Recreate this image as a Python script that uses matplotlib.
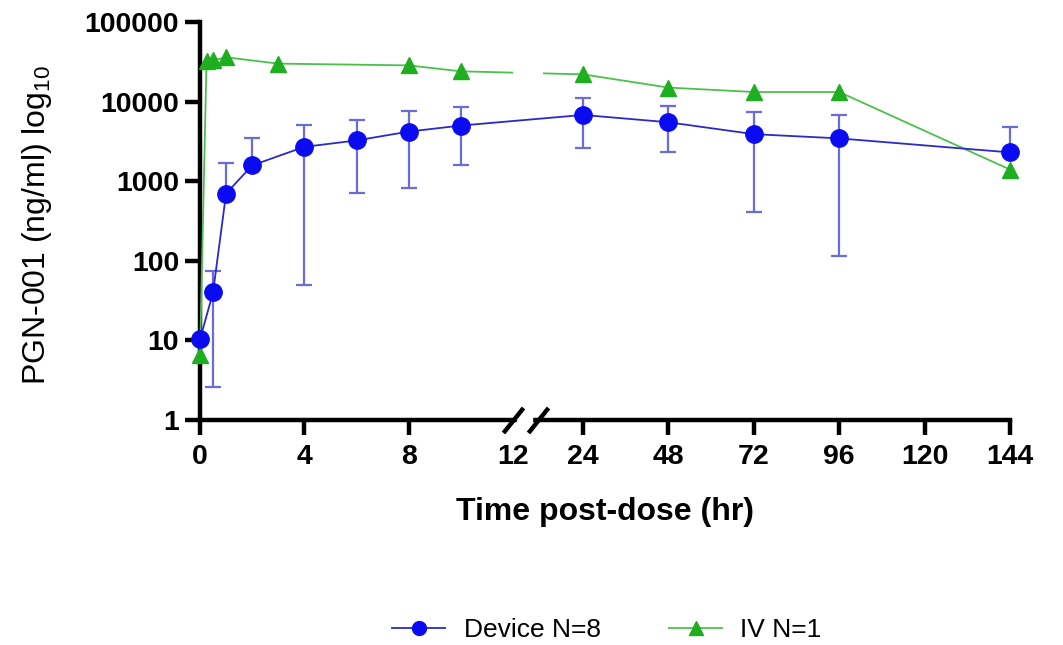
import numpy as np
import matplotlib
matplotlib.use("Agg")
from matplotlib import pyplot as plt
from matplotlib import transforms
from matplotlib.lines import Line2D

plt.rcParams['font.family'] = ['Liberation Sans', 'DejaVu Sans']
plt.rcParams['mathtext.fontset'] = 'custom'
plt.rcParams['mathtext.rm'] = 'Liberation Sans'

# Device group (N=8): mean and the ends of the SD bars (ng/ml)
device_t = [0, 0.5, 1, 2, 4, 6, 8, 10, 24, 48, 72, 96, 144]
device_mean = [10.3, 40, 700, 1580, 2700, 3250, 4200, 5000, 6800, 5500, 3900, 3450, 2300]
device_hi = [10.3, 75, 1700, 3500, 5100, 5900, 7700, 8600, 11200, 8700, 7300, 6700, 4800]
device_lo = [10.3, 2.6, 700, 1580, 50, 710, 820, 1600, 2650, 2300, 410, 115, 2300]

# IV group (N=1)
iv_t = [0, 0.25, 0.5, 1, 3, 8, 10, 24, 48, 72, 96, 144]
iv_val = [6.5, 32000, 33000, 36000, 30000, 28500, 24000, 22000, 15000, 13200, 13200, 1400]

x_ticks = [0, 4, 8, 12, 24, 48, 72, 96, 120, 144]
y_ticks = [1, 10, 100, 1000, 10000, 100000]

# broken x axis: 0-12 h and 24-144 h share one axes via a piecewise scale
seg_x = [0, 12, 24, 144]
seg_px = [0, 313, 383, 810]
def fwd(x):
    return np.interp(x, seg_x, seg_px)
def inv(p):
    return np.interp(p, seg_px, seg_x)

BREAK_L = 12.0
BREAK_R = 16.3

BLUE = '#0b0bf2'
BLUE_LINE = '#2a2ac8'
BLUE_ERR = '#6b6bd9'
GREEN = '#1fae1f'
GREEN_LINE = '#4cc04c'

fig = plt.figure(figsize=(10.63, 6.45), dpi=100)
ax = fig.add_axes([200/1063, 1 - 420/645, 810/1063, 398/645])
ax.set_xscale('function', functions=(fwd, inv))
ax.set_yscale('log')
ax.set_xlim(0, 144)
ax.set_ylim(1, 100000)

# IV line underneath, then a white mask makes the break gap in it
ax.plot(iv_t, iv_val, color=GREEN_LINE, lw=1.3, zorder=2, clip_on=False)
ax.axvspan(BREAK_L, BREAK_R + 0.8, color='white', zorder=2.5, lw=0)
ax.plot(iv_t, iv_val, ls='none', marker='^', ms=12, color=GREEN, mec=GREEN,
        zorder=4, clip_on=False)

yerr = [np.array(device_mean) - np.array(device_lo),
        np.array(device_hi) - np.array(device_mean)]
ax.errorbar(device_t, device_mean, yerr=yerr, fmt='none', ecolor=BLUE_ERR,
            elinewidth=1.6, capsize=6, capthick=1.6, zorder=3, clip_on=False)
ax.plot(device_t, device_mean, color=BLUE_LINE, lw=1.3, zorder=3, clip_on=False)
ax.plot(device_t, device_mean, ls='none', marker='o', ms=12.5, color=BLUE,
        mec=BLUE, zorder=5, clip_on=False)

# axes styling
for s in ['top', 'right']:
    ax.spines[s].set_visible(False)
ax.spines['left'].set_linewidth(3.2)
ax.spines['bottom'].set_linewidth(3.2)
ax.spines['left'].set_zorder(1)
ax.set_xticks(x_ticks)
ax.set_xticklabels([str(v) for v in x_ticks])
ax.set_yticks(y_ticks)
ax.set_yticklabels([str(v) for v in y_ticks])
ax.minorticks_off()
ax.tick_params(axis='both', width=3.2, length=11, labelsize=20.5, pad=4)
ax.tick_params(axis='x', pad=6)
for lab in ax.get_xticklabels() + ax.get_yticklabels():
    lab.set_fontweight('bold')
# no tick mark at 12 (the break sits there)
ax.xaxis.get_major_ticks()[3].tick1line.set_visible(False)

# axis break: blank the spine between the two slashes, then draw them
trans = transforms.blended_transform_factory(ax.transData, ax.transAxes)
ax.add_patch(plt.Rectangle((BREAK_L + 0.6, -0.02), BREAK_R - BREAK_L - 1.6, 0.04,
                           transform=trans, color='white', zorder=6, clip_on=False))
for bx in [BREAK_L, BREAK_R]:
    ax.plot([bx], [0], transform=trans, marker=[(-0.8, -1), (0.8, 1)], ms=18,
            mew=3.2, color='k', ls='none', clip_on=False, zorder=7)

fig.text(605/1063, 1 - 512/645, 'Time post-dose (hr)', ha='center', va='center',
         fontsize=23, fontweight='bold')
fig.text(37/1063, 1 - 225/645, r'PGN-001 (ng/ml) log$_{\mathregular{10}}$',
         rotation=90, ha='center', va='center', fontsize=23)

handles = [Line2D([], [], color=BLUE_LINE, lw=1.3, marker='o', ms=10, mfc=BLUE, mec=BLUE),
           Line2D([], [], color=GREEN_LINE, lw=1.3, marker='^', ms=10, mfc=GREEN, mec=GREEN)]
fig.legend(handles, ['Device N=8', 'IV N=1'], loc='center', ncol=2,
           bbox_to_anchor=(607/1063, 1 - 630/645), frameon=False, fontsize=19,
           handlelength=2.0, columnspacing=2.6, handletextpad=0.7)

fig.savefig('out.png', dpi=100)
